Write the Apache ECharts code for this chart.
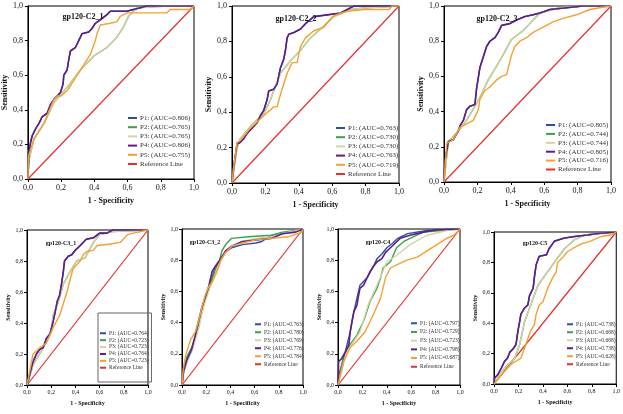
<!DOCTYPE html>
<html><head><meta charset="utf-8">
<script src="https://cdn.jsdelivr.net/npm/echarts@6/dist/echarts.min.js"></script>
<style>html,body{margin:0;padding:0;background:#fff}#c{width:623px;height:414px}</style>
</head><body><div id="c"></div>
<script>
// ---------- data ----------
const tickLabels = ['0,0','0,2','0,4','0,6','0,8','1,0'];
const panelTitles = ['gp120-C2_1','gp120-C2_2','gp120-C2_3','gp120-C3_1','gp120-C3_2','gp120-C4','gp120-C5'];
const seriesKeys = ['P1','P2','P3','P4','P5'];
const auc_c21 = ['0.806','0.765','0.765','0.806','0.755'];
const auc_c22 = ['0.763','0.730','0.730','0.763','0.719'];
const auc_c23 = ['0.805','0.744','0.744','0.805','0.716'];
const auc_c31 = ['0.764','0.723','0.723','0.764','0.723'];
const auc_c32 = ['0.763','0.780','0.769','0.776','0.784'];
const auc_c4  = ['0.797','0.729','0.723','0.798','0.687'];
const auc_c5  = ['0.738','0.668','0.668','0.738','0.628'];
const refLine = [[0,0],[1,1]];

const c21_p4 = [[0,0],[0.006,0.15],[0.016,0.21],[0.026,0.25],[0.046,0.29],[0.066,0.32],[0.086,0.36],[0.116,0.38],[0.136,0.43],[0.156,0.46],[0.176,0.48],[0.196,0.50],[0.212,0.55],[0.216,0.60],[0.236,0.63],[0.246,0.69],[0.256,0.74],[0.286,0.76],[0.306,0.80],[0.326,0.84],[0.366,0.85],[0.386,0.87],[0.406,0.90],[0.436,0.92],[0.476,0.95],[0.496,0.97],[0.596,0.97],[0.636,0.98],[0.716,1],[1,1]];
const c21_p3 = [[0,0],[0.006,0.11],[0.036,0.23],[0.096,0.32],[0.156,0.44],[0.236,0.53],[0.316,0.63],[0.396,0.71],[0.476,0.76],[0.536,0.82],[0.576,0.88],[0.606,0.94],[0.656,0.99],[0.836,1],[1,1]];
const c21_p5 = [[0,0],[0.004,0.13],[0.016,0.17],[0.036,0.23],[0.096,0.32],[0.156,0.46],[0.176,0.48],[0.2,0.48],[0.236,0.51],[0.316,0.63],[0.376,0.72],[0.406,0.80],[0.416,0.84],[0.436,0.89],[0.496,0.90],[0.536,0.91],[0.556,0.94],[0.596,0.96],[0.836,0.96],[0.856,0.98],[0.976,0.98],[1,1]];

const c22_p4 = [[0,0],[0.01,0.09],[0.03,0.22],[0.05,0.23],[0.07,0.25],[0.09,0.28],[0.12,0.31],[0.15,0.34],[0.17,0.38],[0.19,0.41],[0.21,0.47],[0.22,0.52],[0.25,0.53],[0.27,0.56],[0.29,0.65],[0.31,0.70],[0.32,0.75],[0.33,0.82],[0.34,0.84],[0.37,0.85],[0.41,0.87],[0.44,0.90],[0.49,0.94],[0.57,0.95],[0.65,0.96],[0.69,0.98],[0.73,1],[1,1]];
const c22_p3 = [[0,0],[0.03,0.20],[0.05,0.25],[0.13,0.34],[0.19,0.39],[0.23,0.47],[0.29,0.62],[0.35,0.69],[0.41,0.75],[0.47,0.82],[0.53,0.87],[0.61,0.94],[0.71,0.98],[0.81,0.99],[1,1]];
const c22_p5 = [[0,0],[0.01,0.09],[0.03,0.23],[0.05,0.24],[0.11,0.31],[0.19,0.38],[0.25,0.43],[0.27,0.43],[0.29,0.50],[0.33,0.62],[0.36,0.68],[0.39,0.68],[0.41,0.77],[0.44,0.82],[0.49,0.86],[0.55,0.88],[0.60,0.94],[0.65,0.96],[0.69,0.97],[0.79,0.98],[0.94,0.98],[0.96,1],[1,1]];

const c23_p4 = [[0,0],[0.006,0.12],[0.026,0.23],[0.056,0.24],[0.086,0.29],[0.096,0.32],[0.116,0.35],[0.135,0.41],[0.155,0.43],[0.185,0.44],[0.195,0.53],[0.215,0.65],[0.235,0.71],[0.255,0.77],[0.275,0.80],[0.305,0.82],[0.325,0.85],[0.345,0.89],[0.394,0.90],[0.434,0.92],[0.484,0.94],[0.534,0.95],[0.574,0.96],[0.634,0.98],[0.733,0.99],[0.833,1],[1,1]];
const c23_p3 = [[0,0],[0.026,0.23],[0.086,0.29],[0.135,0.35],[0.185,0.43],[0.225,0.50],[0.265,0.58],[0.335,0.69],[0.404,0.81],[0.474,0.86],[0.534,0.92],[0.574,0.96],[0.693,0.99],[0.833,1],[1,1]];
const c23_p5 = [[0,0],[0.016,0.22],[0.056,0.24],[0.096,0.31],[0.135,0.33],[0.175,0.35],[0.205,0.41],[0.215,0.47],[0.245,0.52],[0.275,0.54],[0.315,0.58],[0.345,0.60],[0.375,0.61],[0.385,0.65],[0.404,0.72],[0.424,0.77],[0.454,0.80],[0.494,0.82],[0.534,0.85],[0.594,0.88],[0.653,0.91],[0.713,0.93],[0.793,0.95],[0.873,0.98],[0.932,0.99],[1,1]];

const c31_p4 = [[0,0],[0.02,0.06],[0.036,0.11],[0.05,0.15],[0.078,0.20],[0.105,0.23],[0.133,0.24],[0.16,0.30],[0.19,0.33],[0.21,0.39],[0.23,0.46],[0.25,0.54],[0.27,0.58],[0.285,0.65],[0.30,0.73],[0.31,0.80],[0.34,0.83],[0.37,0.84],[0.40,0.87],[0.44,0.90],[0.49,0.94],[0.55,0.95],[0.60,0.98],[0.66,0.98],[0.71,1],[1,1]];
const c31_p3 = [[0,0],[0.05,0.13],[0.133,0.24],[0.20,0.34],[0.216,0.45],[0.26,0.54],[0.30,0.65],[0.355,0.73],[0.41,0.80],[0.48,0.82],[0.52,0.88],[0.55,0.92],[0.60,0.97],[0.71,0.99],[1,1]];
const c31_p5 = [[0,0],[0.05,0.2],[0.105,0.24],[0.16,0.27],[0.216,0.37],[0.27,0.45],[0.33,0.60],[0.38,0.75],[0.44,0.80],[0.465,0.84],[0.49,0.86],[0.55,0.87],[0.58,0.90],[0.69,0.91],[0.77,0.92],[0.83,0.97],[0.88,0.98],[1,1]];

const c32_p1 = [[0,0],[0.014,0.09],[0.04,0.15],[0.08,0.22],[0.11,0.30],[0.14,0.40],[0.165,0.48],[0.19,0.55],[0.22,0.62],[0.25,0.69],[0.275,0.76],[0.32,0.80],[0.36,0.85],[0.41,0.88],[0.50,0.90],[0.61,0.91],[0.66,0.92],[0.74,0.96],[0.83,0.97],[0.94,0.99],[1,1]];
const c32_p2 = [[0,0],[0.014,0.10],[0.04,0.18],[0.08,0.24],[0.11,0.31],[0.14,0.38],[0.165,0.47],[0.19,0.55],[0.22,0.62],[0.25,0.68],[0.275,0.74],[0.31,0.80],[0.33,0.86],[0.36,0.90],[0.41,0.94],[0.55,0.95],[0.74,0.96],[0.83,0.98],[0.94,0.99],[1,1]];
const c32_p3 = [[0,0],[0.014,0.08],[0.04,0.15],[0.08,0.22],[0.11,0.29],[0.14,0.37],[0.165,0.46],[0.19,0.53],[0.22,0.60],[0.25,0.66],[0.29,0.72],[0.32,0.79],[0.36,0.85],[0.41,0.89],[0.50,0.92],[0.61,0.94],[0.74,0.95],[0.83,0.97],[0.94,0.99],[1,1]];
const c32_p4 = [[0,0],[0.014,0.09],[0.04,0.16],[0.08,0.23],[0.11,0.32],[0.14,0.42],[0.165,0.50],[0.19,0.56],[0.22,0.63],[0.25,0.73],[0.275,0.76],[0.32,0.81],[0.36,0.86],[0.41,0.89],[0.50,0.92],[0.61,0.93],[0.74,0.94],[0.83,0.97],[0.94,0.98],[1,1]];
const c32_p5 = [[0,0],[0.01,0.10],[0.03,0.19],[0.07,0.29],[0.11,0.34],[0.14,0.42],[0.165,0.50],[0.19,0.57],[0.22,0.63],[0.25,0.66],[0.29,0.74],[0.32,0.80],[0.36,0.85],[0.41,0.89],[0.50,0.91],[0.61,0.93],[0.74,0.94],[0.88,0.95],[0.99,0.98],[1,1]];

const c4_p1 = [[0,0],[0.005,0.06],[0.046,0.17],[0.10,0.34],[0.13,0.47],[0.18,0.64],[0.24,0.69],[0.29,0.76],[0.32,0.81],[0.36,0.84],[0.40,0.88],[0.45,0.91],[0.49,0.94],[0.57,0.97],[0.73,0.99],[1,1]];
const c4_p2 = [[0,0],[0.046,0.19],[0.10,0.26],[0.155,0.32],[0.21,0.41],[0.265,0.54],[0.32,0.62],[0.35,0.69],[0.37,0.75],[0.43,0.79],[0.48,0.88],[0.54,0.92],[0.59,0.94],[0.70,0.98],[1,1]];
const c4_p3 = [[0,0],[0.07,0.21],[0.18,0.34],[0.25,0.52],[0.32,0.64],[0.40,0.79],[0.48,0.83],[0.59,0.90],[0.73,0.96],[0.92,0.995],[1,1]];
const c4_p4 = [[0,0],[0.005,0.15],[0.03,0.17],[0.06,0.21],[0.09,0.26],[0.10,0.34],[0.115,0.41],[0.13,0.47],[0.155,0.51],[0.17,0.58],[0.18,0.62],[0.21,0.64],[0.24,0.69],[0.265,0.73],[0.29,0.76],[0.32,0.79],[0.36,0.81],[0.39,0.85],[0.43,0.88],[0.47,0.91],[0.51,0.94],[0.59,0.96],[0.70,0.98],[0.81,0.995],[1,1]];
const c4_p5 = [[0,0],[0.046,0.15],[0.10,0.24],[0.155,0.28],[0.22,0.34],[0.265,0.41],[0.30,0.47],[0.35,0.56],[0.39,0.69],[0.43,0.75],[0.48,0.77],[0.565,0.80],[0.65,0.82],[0.73,0.86],[0.81,0.90],[0.89,0.94],[0.95,0.96],[1,1]];

const c5_p4 = [[0,0],[0.005,0.04],[0.03,0.06],[0.06,0.105],[0.087,0.15],[0.11,0.17],[0.13,0.21],[0.155,0.23],[0.18,0.26],[0.196,0.35],[0.21,0.41],[0.22,0.46],[0.25,0.50],[0.277,0.52],[0.29,0.58],[0.32,0.63],[0.33,0.70],[0.345,0.785],[0.37,0.84],[0.43,0.85],[0.45,0.89],[0.495,0.94],[0.576,0.96],[0.66,0.97],[0.766,0.98],[0.85,0.99],[1,1]];
const c5_p3 = [[0,0],[0.087,0.105],[0.17,0.17],[0.21,0.26],[0.25,0.41],[0.30,0.52],[0.36,0.65],[0.44,0.74],[0.52,0.83],[0.576,0.89],[0.66,0.95],[0.74,0.98],[0.85,0.99],[1,1]];
const c5_p5 = [[0,0],[0.06,0.06],[0.14,0.13],[0.22,0.17],[0.26,0.26],[0.30,0.35],[0.33,0.39],[0.345,0.46],[0.37,0.52],[0.40,0.54],[0.43,0.61],[0.45,0.65],[0.48,0.70],[0.51,0.74],[0.52,0.80],[0.56,0.83],[0.60,0.87],[0.64,0.89],[0.71,0.92],[0.79,0.94],[0.875,0.97],[0.957,0.98],[1,1]];

// curves per panel in order P1..P5
const panelCurves = [
  [c21_p4, c21_p3, c21_p3, c21_p4, c21_p5],
  [c22_p4, c22_p3, c22_p3, c22_p4, c22_p5],
  [c23_p4, c23_p3, c23_p3, c23_p4, c23_p5],
  [c31_p4, c31_p3, c31_p3, c31_p4, c31_p5],
  [c32_p1, c32_p2, c32_p3, c32_p4, c32_p5],
  [c4_p1, c4_p2, c4_p3, c4_p4, c4_p5],
  [c5_p4, c5_p3, c5_p3, c5_p4, c5_p5]
];
const panelAUC = [auc_c21, auc_c22, auc_c23, auc_c31, auc_c32, auc_c4, auc_c5];

// ---------- layout / styles ----------
const colors = ['#2c4fa6','#3aa14a','#d4d3a6','#5e1e86','#f5a033'];
const refColor = '#e5302c';
const FONT = 'Liberation Serif';
const grids = [
  {left:27, top:6, width:167, height:173},
  {left:232, top:6, width:167, height:177},
  {left:444, top:6, width:167, height:176},
  {left:27, top:230, width:121, height:155},
  {left:182, top:229, width:121, height:156},
  {left:338, top:229, width:122, height:156},
  {left:494, top:232, width:123, height:152}
];
const titlePos = [[78,12],[291,14],[492,14],[56,238],[200,237],[373,237],[530,238]];
const legendPos = [
  {left:128, top:114, fs:7, gap:1.2, w:9},
  {left:336, top:124, fs:7, gap:1.2, w:9},
  {left:546, top:121, fs:7, gap:0.9, w:9},
  {left:98, top:313, fs:5.5, gap:0.4, w:6, box:true},
  {left:255, top:321, fs:5.5, gap:1.5, w:6},
  {left:411, top:320, fs:5.5, gap:2.2, w:6},
  {left:567, top:321, fs:5.5, gap:1.5, w:6}
];
const yNameGap = [18,18,18,13,16,15,15];

const option = {
  animation:false,
  backgroundColor:'#fff',
  title:[], legend:[], grid:[], xAxis:[], yAxis:[], series:[]
};

grids.forEach((g,i)=>{
  const big = i < 3;
  const lf = big ? 8 : 6;
  option.grid.push({left:g.left, top:g.top, width:g.width, height:g.height, show:true, borderColor:'#000', borderWidth:1, backgroundColor:'#fff'});
  const axisCommon = {
    type:'value', min:0, max:1, interval:0.2, gridIndex:i,
    axisLine:{show:true, lineStyle:{color:'#000', width:1}},
    axisTick:{show:true, inside:false, length:3, lineStyle:{color:'#000'}},
    splitLine:{show:false},
    axisLabel:{fontFamily:FONT, fontSize:lf, color:'#111', margin:big?5:4,
      formatter:v=>tickLabels[Math.round(v/0.2)]},
    nameLocation:'middle',
    nameTextStyle:{fontFamily:FONT, fontWeight:'bold', fontSize:lf, color:'#111'}
  };
  option.xAxis.push(Object.assign({}, axisCommon, {name:'1 - Specificity', nameGap: big?18:15}));
  option.yAxis.push(Object.assign({}, axisCommon, {name:'Sensitivity', nameGap: yNameGap[i]}));
  option.title.push({text:panelTitles[i], left:titlePos[i][0], top:titlePos[i][1], textAlign:'center', textVerticalAlign:'middle',
    textStyle:{fontFamily:FONT, fontWeight:'bold', fontSize: big?8:6, color:'#111'}});
  const names = seriesKeys.map((k,j)=>k+': (AUC='+panelAUC[i][j]+')');
  panelCurves[i].forEach((d,j)=>{
    option.series.push({type:'line', name:names[j], xAxisIndex:i, yAxisIndex:i, data:d,
      showSymbol:false, symbol:'none', color:colors[j],
      lineStyle:{color:colors[j], width: j===3?1.6:1.4}, z:2+j});
  });
  option.series.push({type:'line', name:'Reference Line', xAxisIndex:i, yAxisIndex:i, data:refLine,
    showSymbol:false, symbol:'none', color:refColor, lineStyle:{color:refColor, width:1.2}, z:1});
  const lp = legendPos[i];
  option.legend.push({
    data: names.concat(['Reference Line']),
    left: lp.left, top: lp.top, orient:'vertical', icon:'rect',
    itemWidth: lp.w, itemHeight: 2, itemGap: lp.gap,
    padding: lp.box ? [17,3,11,2] : 0,
    borderColor: lp.box ? '#666' : 'transparent', borderWidth: lp.box ? 1 : 0,
    selectedMode:false,
    textStyle:{fontFamily:FONT, fontSize:lp.fs, color:'#333', padding:[0,0,0,-2], lineHeight:lp.fs+1}
  });
});

const chart = echarts.init(document.getElementById('c'), null, {renderer:'canvas'});
chart.setOption(option);
</script>
</body></html>
